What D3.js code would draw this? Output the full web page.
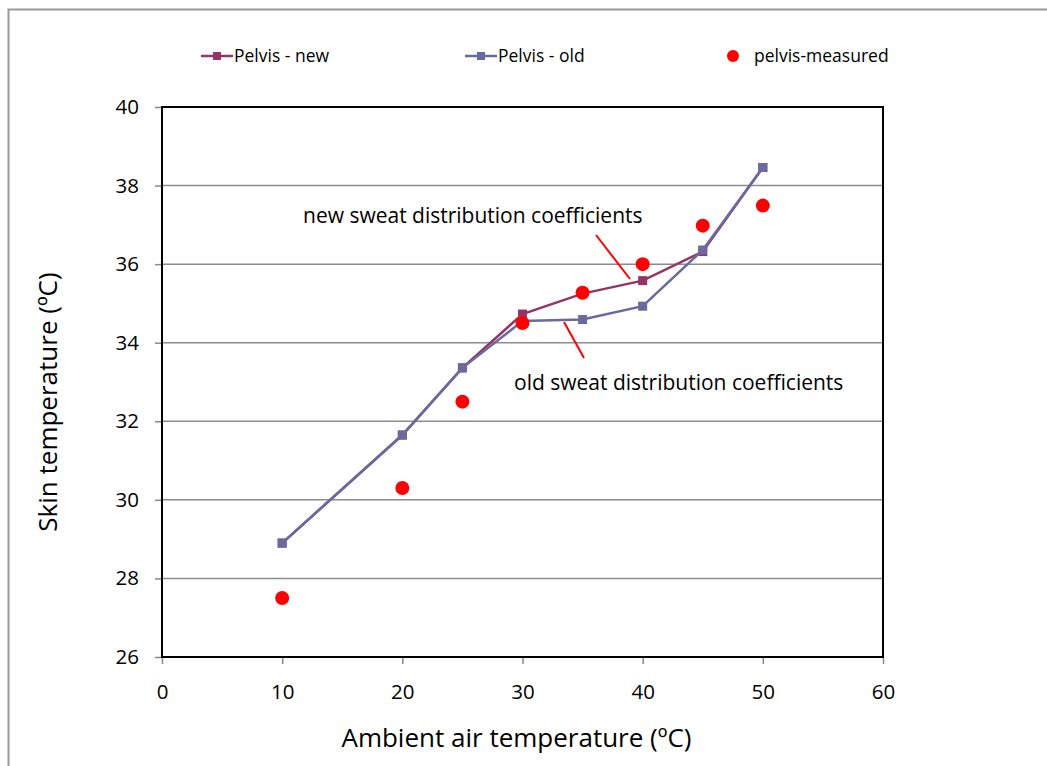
<!DOCTYPE html>
<html lang="en">
<head>
<meta charset="UTF-8">
<title>Skin temperature - pelvis</title>
<script src="https://d3js.org/d3.v7.min.js"></script>
<style>
  body { margin: 0; background: #fff; font-family: "Open Sans", "Lato", sans-serif; }
  svg text { fill: #000; }
</style>
</head>
<body>
<svg id="chart"></svg>
<script>
// data
const airTemp = [10, 20, 25, 30, 35, 40, 45, 50];
const pelvisNew = [28.9, 31.65, 33.36, 34.73, 35.25, 35.58, 36.32, 38.46];
const pelvisOld = [28.9, 31.65, 33.36, 34.55, 34.59, 34.93, 36.36, 38.46];
const pelvisMeasured = [27.5, 30.3, 32.5, 34.5, 35.27, 36.0, 36.98, 37.49];
const xTicks = [0, 10, 20, 30, 40, 50, 60];
const yTicks = [26, 28, 30, 32, 34, 36, 38, 40];

const width = 1047, height = 766;
const margin = { left: 162, right: 164, top: 107, bottom: 109 };

const svg = d3.select("#chart").attr("width", width).attr("height", height);

// outer frame of the chart area
svg.append("rect")
   .attr("x", 8.5).attr("y", 9.5)
   .attr("width", 1100).attr("height", 800)
   .attr("fill", "none").attr("stroke", "#999").attr("stroke-width", 2);

const x = d3.scaleLinear().domain([0, 60]).range([margin.left, width - margin.right]);
const y = d3.scaleLinear().domain([26, 40]).range([height - margin.bottom, margin.top]);

// gridlines
svg.append("g")
   .selectAll("line")
   .data(yTicks.slice(1, -1))
   .join("line")
   .attr("x1", x(0)).attr("x2", x(60))
   .attr("y1", d => y(d)).attr("y2", d => y(d))
   .attr("stroke", "#8c8c8c").attr("stroke-width", 1.5);

// axes
const xAxis = d3.axisBottom(x).tickValues(xTicks).tickSize(7).tickPadding(20);
const yAxis = d3.axisLeft(y).tickValues(yTicks).tickSize(7).tickPadding(16);

const gx = svg.append("g")
   .attr("transform", `translate(0,${y(26)})`)
   .call(xAxis);
const gy = svg.append("g")
   .attr("transform", `translate(${x(0)},0)`)
   .call(yAxis);

[gx, gy].forEach(g => {
  g.attr("font-size", 20.5).attr("font-family", "Open Sans, sans-serif");
  g.select(".domain").remove();
  g.selectAll(".tick line").attr("stroke", "#888").attr("stroke-width", 1.5);
  g.selectAll(".tick text").attr("fill", "#000");
});

// plot frame
svg.append("rect")
   .attr("x", x(0)).attr("y", y(40))
   .attr("width", x(60) - x(0)).attr("height", y(26) - y(40))
   .attr("fill", "none").attr("stroke", "#000").attr("stroke-width", 2);

// axis titles
svg.append("text")
   .attr("x", (x(0) + x(60)) / 2 - 6).attr("y", 747)
   .attr("text-anchor", "middle")
   .attr("font-size", 26)
   .text("Ambient air temperature (ºC)");

svg.append("text")
   .attr("transform", `translate(57,${(y(26) + y(40)) / 2 + 20}) rotate(-90)`)
   .attr("text-anchor", "middle")
   .attr("font-size", 26)
   .text("Skin temperature (ºC)");

const line = d3.line().x(d => x(d[0])).y(d => y(d[1]));

const series = [
  { name: "Pelvis - new", values: pelvisNew, color: "#953565" },
  { name: "Pelvis - old", values: pelvisOld, color: "#6a6a9e" }
];

series.forEach(s => {
  const pts = airTemp.map((t, i) => [t, s.values[i]]);
  svg.append("path")
     .datum(pts)
     .attr("d", line)
     .attr("fill", "none")
     .attr("stroke", s.color)
     .attr("stroke-width", 2.5);
  svg.append("g")
     .selectAll("rect")
     .data(pts)
     .join("rect")
     .attr("x", d => x(d[0]) - 4.5).attr("y", d => y(d[1]) - 4.5)
     .attr("width", 9).attr("height", 9)
     .attr("fill", s.color);
});

// measured points
svg.append("g")
   .selectAll("circle")
   .data(airTemp.map((t, i) => [t, pelvisMeasured[i]]))
   .join("circle")
   .attr("cx", d => x(d[0])).attr("cy", d => y(d[1]))
   .attr("r", 7)
   .attr("fill", "#ff0000");

// annotations
svg.append("line")
   .attr("x1", 596).attr("y1", 235).attr("x2", 630).attr("y2", 279)
   .attr("stroke", "#ff0000").attr("stroke-width", 2);
svg.append("line")
   .attr("x1", 564).attr("y1", 322).attr("x2", 584).attr("y2", 358)
   .attr("stroke", "#ff0000").attr("stroke-width", 2);

svg.append("text")
   .attr("x", 303).attr("y", 223)
   .attr("font-size", 21)
   .text("new sweat distribution coefficients");
svg.append("text")
   .attr("x", 514).attr("y", 390)
   .attr("font-size", 21)
   .text("old sweat distribution coefficients");

// legend
const legend = svg.append("g").attr("font-size", 17.5);
const legendItems = [
  { x: 201, name: series[0].name, color: series[0].color, kind: "line" },
  { x: 465, name: series[1].name, color: series[1].color, kind: "line" },
  { x: 722, name: "pelvis-measured", color: "#ff0000", kind: "dot" }
];
legendItems.forEach(it => {
  const g = legend.append("g").attr("transform", `translate(${it.x},56)`);
  if (it.kind === "line") {
    g.append("line").attr("x1", 0).attr("x2", 32).attr("y1", 0).attr("y2", 0)
     .attr("stroke", it.color).attr("stroke-width", 2.5);
    g.append("rect").attr("x", 12).attr("y", -4).attr("width", 8).attr("height", 8)
     .attr("fill", it.color);
    g.append("text").attr("x", 33).attr("dy", "0.35em").text(it.name);
  } else {
    g.append("circle").attr("cx", 11).attr("cy", 0).attr("r", 6).attr("fill", it.color);
    g.append("text").attr("x", 32).attr("dy", "0.35em").text(it.name);
  }
});
</script>
</body>
</html>
